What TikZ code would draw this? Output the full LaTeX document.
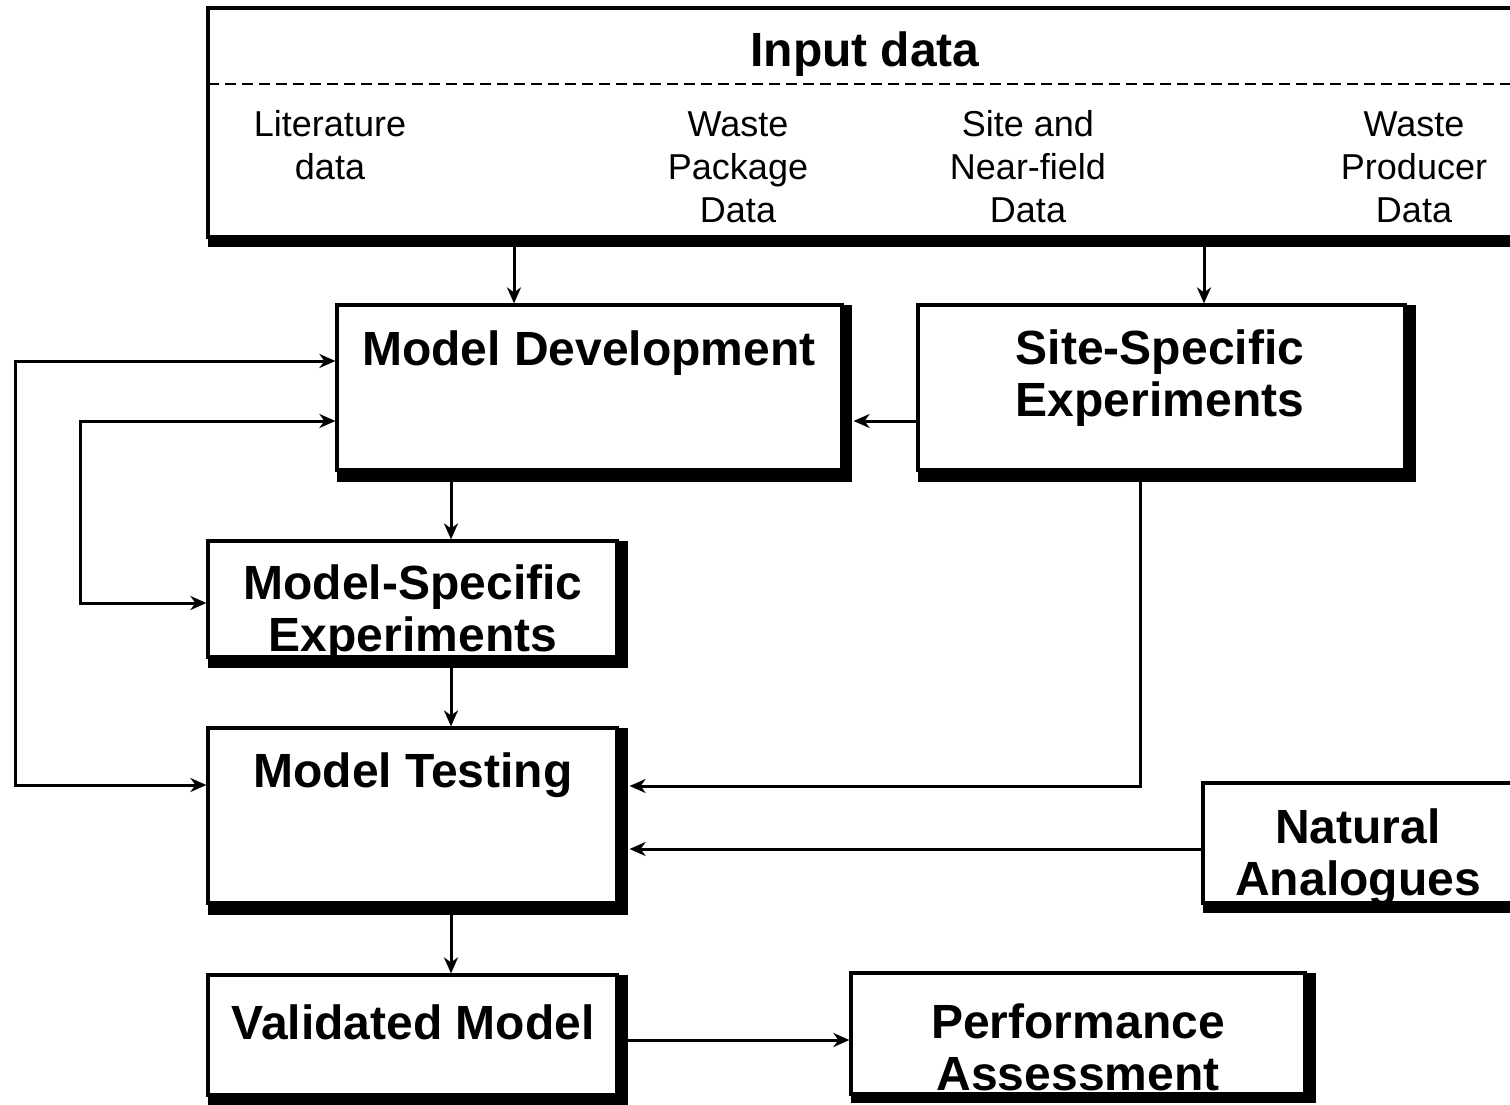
\documentclass[tikz,border=0pt]{standalone}
\usepackage{fontspec}
\setmainfont{Liberation Sans}
\usetikzlibrary{arrows.meta,fit}
\begin{document}
\begin{tikzpicture}[x=1pt,y=-1pt,
  boxline/.style={draw, line width=3.2pt, inner sep=0pt},
  conn/.style={line width=3pt, -{Stealth[length=16pt,width=14pt,inset=5pt]}},
  bothconn/.style={line width=3pt, {Stealth[length=16pt,width=14pt,inset=5pt]}-{Stealth[length=16pt,width=14pt,inset=5pt]}},
  big/.style={font=\fontsize{48}{52}\selectfont\bfseries, align=center, inner sep=0pt},
  small/.style={font=\fontsize{36}{43}\selectfont, align=center, inner sep=0pt}]
\useasboundingbox (0,0) rectangle (1510,1104);

% ---- boxes with heavy right/bottom edges ----
% Input data
\fill (208,237) rectangle (1525,247);
\node[boxline, fit={(208,8)(1525,237)}] (input) {};
\coordinate (dl) at (208,84);
\coordinate (dr) at (1525,84);
\draw[line width=2.5pt, dash pattern=on 11pt off 6pt] (dl) -- (dr);

% Model Development
\fill (337,470) rectangle (852,482);
\fill (842,305) rectangle (852,482);
\node[boxline, fit={(337,305)(842,470)}] (md) {};

% Site-Specific Experiments
\fill (918,470) rectangle (1416,482);
\fill (1405,305) rectangle (1416,482);
\node[boxline, fit={(918,305)(1405,470)}] (sse) {};

% Model-Specific Experiments
\fill (208,657) rectangle (628,668);
\fill (617,541) rectangle (628,668);
\node[boxline, fit={(208,541)(617,657)}] (mse) {};

% Model Testing
\fill (208,903) rectangle (628,915);
\fill (617,728) rectangle (628,915);
\node[boxline, fit={(208,728)(617,903)}] (mt) {};

% Natural Analogues
\fill (1203,903) rectangle (1525,913);
\node[boxline, fit={(1203,783)(1525,903)}] (na) {};

% Validated Model
\fill (208,1095) rectangle (628,1108);
\fill (617,975) rectangle (628,1108);
\node[boxline, fit={(208,975)(617,1095)}] (vm) {};

% Performance Assessment
\fill (851,1094) rectangle (1316,1103);
\fill (1305,973) rectangle (1316,1103);
\node[boxline, fit={(851,973)(1305,1094)}] (pa) {};

% ---- texts ----
\node[big] (t-input) at (865,54) {Input data};
\node[small] (t-lit) at (330,145) {Literature\\data};
\node[small] (t-wp) at (738,167) {Waste\\Package\\Data};
\node[small] (t-site) at (1028,167) {Site and\\Near-field\\Data};
\node[small] (t-wprod) at (1414,167) {Waste\\Producer\\Data};
\node[big] (t-md) at (589,353) {Model Development};
\node[big] (t-sse) at (1160,378) {Site-Specific\\Experiments};
\node[big] (t-mse) at (413,613) {Model-Specific\\Experiments};
\node[big] (t-mt) at (413,775) {Model Testing};
\node[big] (t-na) at (1358,857) {Natural\\Analogues};
\node[big] (t-vm) at (413,1022) {Validated Model};
\node[big] (t-pa) at (1078,1047) {Performance\\Assessment};

% ---- helper coordinates ----
\coordinate (x514) at (514,0);
\coordinate (x1204) at (1204,0);
\coordinate (x451) at (451,0);
\coordinate (x1140) at (1140,0);
\coordinate (x15) at (15,0);
\coordinate (x80) at (80,0);
\coordinate (y421) at (0,421);
\coordinate (y361) at (0,361);
\coordinate (y785) at (0,785);
\coordinate (y603) at (0,603);
\coordinate (y786) at (0,786);
\coordinate (y849) at (0,849);
\coordinate (y1040) at (0,1040);

% ---- connectors ----
\draw[conn] (x514 |- input.south) -- (x514 |- md.north);
\draw[conn] (x1204 |- input.south) -- (x1204 |- sse.north);
\draw[conn] (y421 -| sse.west) -- ([xshift=10pt]y421 -| md.east);
\draw[conn] (x451 |- md.south) -- (x451 |- mse.north);
\draw[conn] (x451 |- mse.south) -- (x451 |- mt.north);
\draw[conn] (x451 |- mt.south) -- (x451 |- vm.north);
\draw[conn] (y1040 -| vm.east) -- (y1040 -| pa.west);
\draw[conn] (x1140 |- sse.south) |- ([xshift=11pt]y786 -| mt.east);
\draw[conn] (y849 -| na.west) -- ([xshift=11pt]y849 -| mt.east);
\draw[bothconn] (y361 -| md.west) -- (y361 -| x15) -- (y785 -| x15) -- (y785 -| mt.west);
\draw[bothconn] (y421 -| md.west) -- (y421 -| x80) -- (y603 -| x80) -- (y603 -| mse.west);
\end{tikzpicture}
\end{document}
